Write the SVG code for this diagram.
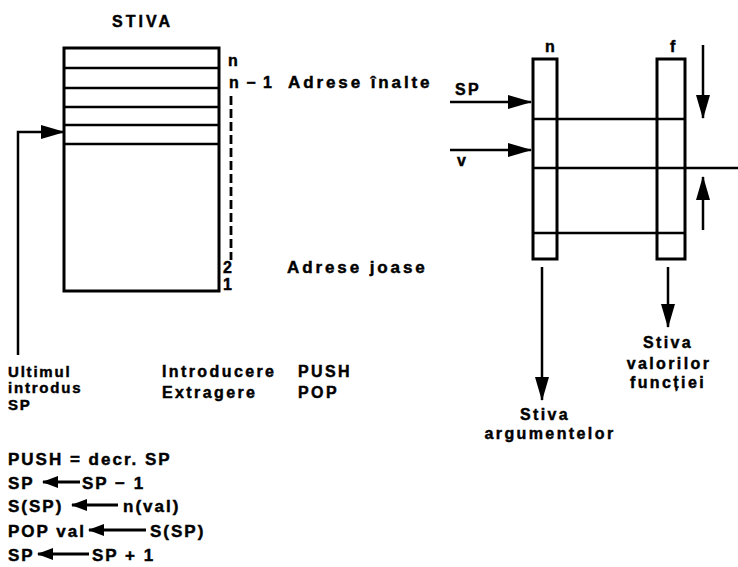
<svg xmlns="http://www.w3.org/2000/svg" width="738" height="567" viewBox="0 0 738 567">
<style>
.t{font-family:"Liberation Sans",Arial,sans-serif;font-weight:bold;font-size:16px;letter-spacing:2.4px;fill:#000;stroke:#000;stroke-width:0.45px}
.f{font-size:17px;letter-spacing:2px}
.a{font-size:17px;letter-spacing:2.9px}
.s{font-size:15px;letter-spacing:1.8px}
.box{fill:none;stroke:#000;stroke-width:3}
.ln{fill:none;stroke:#000;stroke-width:2.5}
.c{fill:none;stroke:#000;stroke-width:2.5}
.cf{fill:none;stroke:#000;stroke-width:3}
.m{text-anchor:middle}
</style>
<defs>
<marker id="ah" markerUnits="userSpaceOnUse" markerWidth="24" markerHeight="14" refX="23" refY="7" orient="auto"><path d="M0,0 L24,7 L0,14 z" fill="#000"/></marker>
<marker id="ahs" markerUnits="userSpaceOnUse" markerWidth="16" markerHeight="12" refX="15" refY="6" orient="auto"><path d="M0,0 L16,6 L0,12 z" fill="#000"/></marker>
</defs>
<rect width="738" height="567" fill="#fff"/>

<g id="stack">
<text class="t" x="112" y="27" style="letter-spacing:3px">STIVA</text>
<rect class="box" x="64" y="48" width="155" height="243"/>
<path class="ln" d="M64,68H219M64,88H219M64,107H219M64,125H219M64,144H219"/>
<path d="M231,96V260" stroke="#000" stroke-width="2.8" stroke-dasharray="9 4" fill="none"/>
<text class="t" x="228" y="66">n</text>
<text class="t" x="229" y="88" style="letter-spacing:1.5px">n − 1</text>
<text class="t" x="223" y="273">2</text>
<text class="t" x="223" y="290">1</text>
<text class="t a" x="288" y="88">Adrese înalte</text>
<text class="t a" x="287" y="273">Adrese joase</text>
</g>

<g id="col-n">
<rect class="box" x="533" y="59" width="24" height="200"/>
<text class="t" x="545" y="52">n</text>
</g>
<g id="col-f">
<rect class="box" x="657" y="59" width="28" height="200"/>
<text class="t" x="670" y="52">f</text>
</g>
<g id="levels">
<path class="ln" d="M533,119H686M533,168H738M533,233H686"/>
</g>

<g id="connectors">
<path class="c" d="M18,355V132H64" marker-end="url(#ah)"/>
<path class="c" d="M450,102H531" marker-end="url(#ah)"/>
<path class="c" d="M450,150H531" marker-end="url(#ah)"/>
<path class="c" d="M703,45V118" marker-end="url(#ah)"/>
<path class="c" d="M703,230V177" marker-end="url(#ah)"/>
<path class="c" d="M542,267V400" marker-end="url(#ah)"/>
<path class="c" d="M668,267V327" marker-end="url(#ah)"/>
</g>

<g id="labels-right">
<text class="t" x="455" y="95">SP</text>
<text class="t" x="457" y="166">v</text>
<text class="t m" x="545" y="420">Stiva</text>
<text class="t m" x="550" y="439">argumentelor</text>
<text class="t m" x="668" y="348">Stiva</text>
<text class="t m" x="669" y="369">valorilor</text>
<text class="t m" x="668" y="388">funcției</text>
</g>

<g id="labels-left">
<text class="t s" x="8" y="377">Ultimul</text>
<text class="t s" x="8" y="393">introdus</text>
<text class="t s" x="8" y="410">SP</text>
<text class="t" x="162" y="377">Introducere</text>
<text class="t" x="298" y="377">PUSH</text>
<text class="t" x="162" y="398">Extragere</text>
<text class="t" x="298" y="398">POP</text>
</g>

<g id="formulas">
<text class="t f" x="8" y="465">PUSH = decr. SP</text>
<text class="t f" x="8" y="489">SP</text>
<path class="cf" d="M80,482H43" marker-end="url(#ahs)"/>
<text class="t f" x="82" y="489">SP − 1</text>
<text class="t f" x="8" y="512">S(SP)</text>
<path class="cf" d="M118,505H72" marker-end="url(#ahs)"/>
<text class="t f" x="123" y="512">n(val)</text>
<text class="t f" x="8" y="537">POP val</text>
<path class="cf" d="M146,530H89" marker-end="url(#ahs)"/>
<text class="t f" x="150" y="537">S(SP)</text>
<text class="t f" x="8" y="561">SP</text>
<path class="cf" d="M89,554H38" marker-end="url(#ahs)"/>
<text class="t f" x="92" y="561">SP + 1</text>
</g>
</svg>
